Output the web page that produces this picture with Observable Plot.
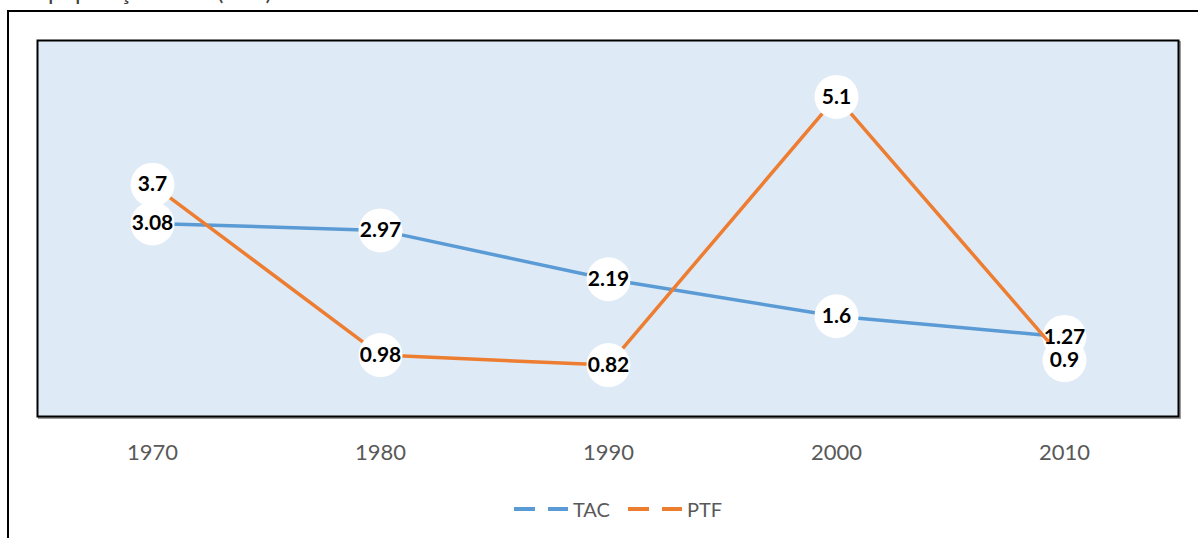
<!DOCTYPE html>
<html>
<head>
<meta charset="utf-8">
<script src="https://cdn.jsdelivr.net/npm/d3@7"></script>
<script src="https://cdn.jsdelivr.net/npm/@observablehq/plot@0.6"></script>
<style>
  html, body { margin: 0; padding: 0; background: #fff; width: 1198px; height: 538px; overflow: hidden; position: relative; font-family: Lato, "Open Sans", sans-serif; }
  #title { position: absolute; left: 48px; top: -21px; font-size: 24px; line-height: 1; color: #404040; white-space: nowrap; }
  #outer { position: absolute; left: 7px; top: 10px; width: 1200px; height: 540px; border-left: 2px solid #000; border-top: 2px solid #000; z-index: 5; pointer-events: none; }
  #chart { position: absolute; left: 0; top: 0; }
  #legend { position: absolute; left: 18px; width: 1198px; top: 494px; text-align: center; font-size: 20px; color: #595959; }
  #legend .item { display: inline-flex; align-items: center; margin: 0 8px; }
  #legend svg { margin-right: 3px; }
</style>
</head>
<body>
<div id="title">população total (PTF)</div>
<div id="outer"></div>
<div id="chart"></div>
<div id="legend"></div>
<script>
const years = ["1970", "1980", "1990", "2000", "2010"];
const tacValues = [3.08, 2.97, 2.19, 1.6, 1.27];
const ptfValues = [3.7, 0.98, 0.82, 5.1, 0.9];
const seriesNames = ["TAC", "PTF"];
const seriesColors = ["#5B9BD5", "#ED7D31"];

const tac = years.map((y, i) => ({year: y, value: tacValues[i], series: "TAC"}));
const ptf = years.map((y, i) => ({year: y, value: ptfValues[i], series: "PTF"}));

const lineAndDots = (data, color) => [
  Plot.line(data, {x: "year", y: "value", stroke: color, strokeWidth: 3.5}),
  Plot.dot(data, {x: "year", y: "value", r: 22, fill: "white", stroke: "none"})
];
const labels = (data) =>
  Plot.text(data, {x: "year", y: "value", text: d => String(d.value), fontWeight: "bold", fontSize: 21, fill: "black"});

const chart = Plot.plot({
  width: 1198,
  height: 480,
  marginLeft: 37,
  marginRight: 20,
  marginTop: 40,
  marginBottom: 64,
  style: {background: "transparent", fontFamily: "Lato, 'Open Sans', sans-serif"},
  x: {type: "point", domain: years, padding: 0.5, label: null},
  y: {domain: [0, 6], axis: null},
  marks: [
    Plot.frame({stroke: "#9a9a9a", strokeWidth: 2, dx: 1.5, dy: 1.5}),
    Plot.frame({fill: "#DEEAF6", stroke: "#000", strokeWidth: 2}),
    Plot.axisX({tickSize: 0, tickPadding: 28, fontSize: 22, color: "#595959", label: null}),
    ...lineAndDots(tac, seriesColors[0]),
    ...lineAndDots(ptf, seriesColors[1]),
    labels(tac),
    labels(ptf)
  ]
});
document.getElementById("chart").appendChild(chart);

const legend = document.getElementById("legend");
seriesNames.forEach((name, i) => {
  const item = document.createElement("span");
  item.className = "item";
  item.innerHTML = `<svg width="58" height="10"><line x1="2" y1="5" x2="56" y2="5" stroke="${seriesColors[i]}" stroke-width="4" stroke-dasharray="21 13"/></svg><span>${name}</span>`;
  legend.appendChild(item);
});
</script>
</body>
</html>
